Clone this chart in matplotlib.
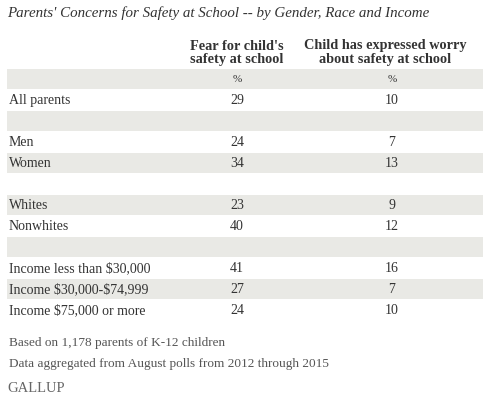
import matplotlib
matplotlib.use("Agg")
import matplotlib.pyplot as plt
from matplotlib.patches import Rectangle
plt.rcParams["text.parse_math"] = False

title = "Parents' Concerns for Safety at School -- by Gender, Race and Income"
col_headers = ["Fear for child's\nsafety at school", "Child has expressed worry\nabout safety at school"]
row_labels = ["", "All parents", "", "Men", "Women", "", "Whites", "Nonwhites", "",
              "Income less than $30,000", "Income $30,000-$74,999", "Income $75,000 or more"]
fear = ["%", "29", "", "24", "34", "", "23", "40", "", "41", "27", "24"]
worry = ["%", "10", "", "7", "13", "", "9", "12", "", "16", "7", "10"]
notes = ["Based on 1,178 parents of K-12 children",
         "Data aggregated from August polls from 2012 through 2015"]

fig = plt.figure(figsize=(4.9, 4.01), dpi=100)
ax = fig.add_axes([0, 0, 1, 1])
ax.set_xlim(0, 490); ax.set_ylim(401, 0); ax.axis("off")
serif = "Liberation Serif"
tc = "#333333"
ax.text(7, 13, title, fontsize=10.8, style="italic", family=serif, color=tc, va="center", parse_math=False)
xs = [237, 385]
for x, h in zip(xs, col_headers):
    ax.text(x, 53, h, fontsize=10.3, weight="bold", family=serif, color=tc, ha="center", va="center", linespacing=1.1)
top = 69; rh = 21
for i, (lab, a, b) in enumerate(zip(row_labels, fear, worry)):
    y0 = top + i * rh
    if i % 2 == 0:
        ax.add_patch(Rectangle((7, y0), 476, rh - 1, color="#e9e9e5", lw=0))
    yc = y0 + rh / 2
    ax.text(9, yc, lab, fontsize=10, family=serif, color=tc, va="center", parse_math=False)
    ax.text(xs[0], yc, a, fontsize=10 if a != "%" else 8, family=serif, color=tc, ha="center", va="center")
    ax.text(xs[1] + 7, yc, b, fontsize=10 if b != "%" else 8, family=serif, color=tc, ha="center", va="center")
for j, n in enumerate(notes):
    ax.text(9, 343 + 21 * j, n, fontsize=9.5, family=serif, color="#555555", va="center")
ax.text(7, 389, "GALLUP", fontsize=10.5, family=serif, color="#666666", va="center")
fig.savefig("out.png", dpi=100)
